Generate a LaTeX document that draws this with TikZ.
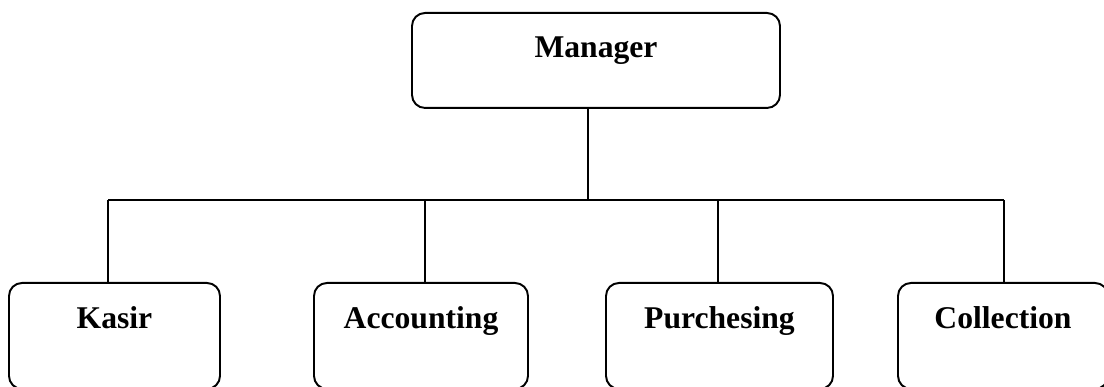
\documentclass[tikz,border=0pt]{standalone}
\usepackage{fontspec}
\setmainfont{Liberation Serif}
\tikzset{
  unit/.style={draw, line width=1.1pt, rounded corners=0.26cm, inner sep=0pt,
    font=\fontsize{18}{22}\selectfont\bfseries, anchor=north},
  link/.style={line width=1.1pt}
}
\begin{document}
\begin{tikzpicture}
            \useasboundingbox (0,0) rectangle (22.08,-7.74);
            % top
            \node[unit, minimum width=7.36cm, text height=0.9cm, text depth=1.0cm] at (11.92,-0.24) (Man) {Manager};
            % bus
            \coordinate (J) at (11.76,-4.0);
            \coordinate (tK) at (2.16,-4.0);
            \coordinate (tA) at (8.50,-4.0);
            \coordinate (tP) at (14.36,-4.0);
            \coordinate (tC) at (20.08,-4.0);
            % units below
            \node[unit, minimum width=4.22cm, text height=0.92cm, text depth=1.2cm] at (2.29,-5.64) (Kas) {Kasir};
            \node[unit, minimum width=4.28cm, text height=0.92cm, text depth=1.2cm] at (8.42,-5.64) (Acc) {Accounting};
            \node[unit, minimum width=4.54cm, text height=0.92cm, text depth=1.2cm] at (14.39,-5.64) (Pur) {Purchesing};
            \node[unit, minimum width=4.20cm, text height=0.92cm, text depth=1.2cm] at (20.06,-5.64) (Col) {Collection};
            % lines
            \draw[link] (Man.south -| J) -- (J);
            \draw[link] (tK) -- (tC);
            \draw[link] (tK) -- (tK |- Kas.north);
            \draw[link] (tA) -- (tA |- Acc.north);
            \draw[link] (tP) -- (tP |- Pur.north);
            \draw[link] (tC) -- (tC |- Col.north);
          \end{tikzpicture}
\end{document}
